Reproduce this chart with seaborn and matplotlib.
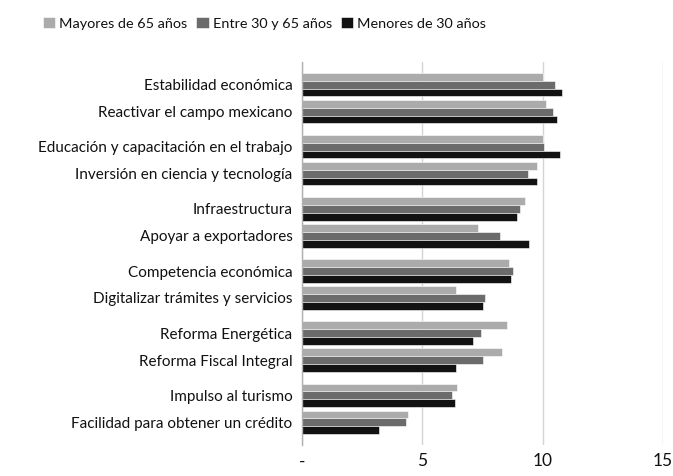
import pandas as pd
import numpy as np
import matplotlib
matplotlib.use('Agg')
import matplotlib.pyplot as plt
import seaborn as sns

#Data
categorias = ['Estabilidad económica', 'Reactivar el campo mexicano',
              'Educación y capacitación en el trabajo', 'Inversión en ciencia y tecnología',
              'Infraestructura', 'Apoyar a exportadores',
              'Competencia económica', 'Digitalizar trámites y servicios',
              'Reforma Energética', 'Reforma Fiscal Integral',
              'Impulso al turismo', 'Facilidad para obtener un crédito']
mayores_65 = [10.0, 10.14, 10.0, 9.75, 9.25, 7.30, 8.60, 6.40, 8.52, 8.31, 6.43, 4.39]
entre_30_65 = [10.52, 10.41, 10.04, 9.40, 9.04, 8.23, 8.78, 7.62, 7.45, 7.53, 6.25, 4.33]
menores_30 = [10.79, 10.59, 10.73, 9.75, 8.95, 9.42, 8.70, 7.52, 7.12, 6.40, 6.36, 3.20]
grupos = ['Mayores de 65 años', 'Entre 30 y 65 años', 'Menores de 30 años']
colores = ['#ababab', '#6b6b6b', '#121212']

#Categories come in pairs with a small gap between pairs
pos = [i + 0.3 * (i // 2) for i in range(len(categorias))]

df = pd.DataFrame({
    'pos': pos * 3,
    'valor': mayores_65 + entre_30_65 + menores_30,
    'grupo': [g for g in grupos for _ in categorias],
})

sns.set_style('white')
plt.rcParams['font.family'] = ['Lato', 'DejaVu Sans']
plt.rcParams['text.color'] = '#111111'

fig = plt.figure(figsize=(6.73, 4.76), dpi=100)
ax = fig.add_axes([0.449, 0.065, 0.536, 0.805])

sns.barplot(data=df, x='valor', y='pos', hue='grupo', orient='y', native_scale=True,
            palette=colores, hue_order=grupos, width=0.86, edgecolor='white',
            linewidth=0.4, ax=ax)

ax.set_xlim(0, 15)
ax.set_ylim(12.5 + 0.85, -0.85)
ax.set_xticks([0, 5, 10, 15])
ax.set_xticklabels(['-', '5', '10', '15'], fontsize=12.5)
ax.set_yticks(pos)
ax.set_yticklabels(categorias, fontsize=11)
ax.tick_params(axis='both', length=0, pad=7, labelcolor='#111111')
ax.tick_params(axis='x', pad=6)
ax.set_xlabel('')
ax.set_ylabel('')
ax.grid(axis='x', color='#d4d4d4', linewidth=1)
ax.set_axisbelow(True)
for s in ['top', 'right', 'bottom']:
    ax.spines[s].set_visible(False)
ax.spines['left'].set_color('#b0b0b0')
ax.spines['left'].set_linewidth(1)

handles, labels = ax.get_legend_handles_labels()
ax.get_legend().remove()
fig.legend(handles, labels, loc='center', bbox_to_anchor=(0.393, 0.951), ncol=3,
           frameon=False, fontsize=10.4, handlelength=0.85, handleheight=0.85,
           handletextpad=0.3, columnspacing=0.6)

plt.savefig('out.png', dpi=100)
